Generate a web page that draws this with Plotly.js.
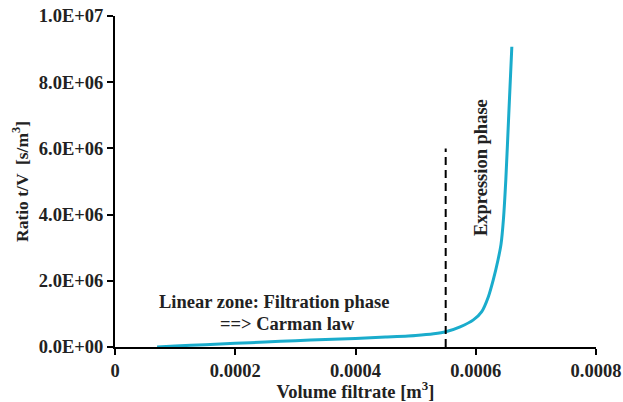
<!DOCTYPE html>
<html>
<head>
<meta charset="utf-8">
<script src="https://cdn.plot.ly/plotly-3.0.1.min.js"></script>
<style>html,body{margin:0;padding:0;background:#fff;}#chart{width:623px;height:402px;}</style>
</head>
<body>
<div id="chart"></div>
<script>
// Data
const volume = [0.00007, 0.0001, 0.00015, 0.0002, 0.00025, 0.0003, 0.00035, 0.0004, 0.00045, 0.0005, 0.00053, 0.00055, 0.000574, 0.000596, 0.00061, 0.000621, 0.000629, 0.000637, 0.000642, 0.000646, 0.00065, 0.000655, 0.00066];
const ratio  = [0, 30000, 70000, 110000, 150000, 190000, 225000, 260000, 300000, 350000, 400000, 460000, 610000, 820000, 1070000, 1520000, 2020000, 2630000, 3100000, 3850000, 5050000, 7060000, 9070000];
const dividerX = [0.00055, 0.00055];
const dividerY = [0, 6000000];
const yTickVals = [0, 2000000, 4000000, 6000000, 8000000, 10000000];
const yTickText = ["0.0E+00", "2.0E+06", "4.0E+06", "6.0E+06", "8.0E+06", "1.0E+07"];
const xTickVals = [0, 0.0002, 0.0004, 0.0006, 0.0008];
const xTickText = ["0", "0.0002", "0.0004", "0.0006", "0.0008"];

const font = "'Liberation Serif', 'Times New Roman', serif";
const txt = {family: font, size: 18.5, color: '#222', weight: 'bold'};
const yTitleTxt = {family: font, size: 17.5, color: '#222', weight: 'bold'};
const xTitleTxt = {family: font, size: 18.5, color: '#222', weight: 'bold'};

const traces = [
  {x: volume, y: ratio, type: 'scatter', mode: 'lines',
   line: {color: '#1aaccc', width: 3, shape: 'spline', smoothing: 0.8}, hoverinfo: 'skip'},
  {x: dividerX, y: dividerY, type: 'scatter', mode: 'lines',
   line: {color: '#000', width: 2, dash: '8px,5px'}, hoverinfo: 'skip'}
];

const layout = {
  width: 623, height: 402,
  margin: {l: 115, r: 27, t: 16, b: 55},
  paper_bgcolor: '#fff', plot_bgcolor: '#fff',
  showlegend: false,
  font: txt,
  xaxis: {
    range: [0, 0.0008], tickvals: xTickVals, ticktext: xTickText,
    showgrid: false, zeroline: false, showline: true, linecolor: '#000', linewidth: 2,
    ticks: 'outside', ticklen: 6, tickwidth: 2, tickcolor: '#000',
    tickfont: txt,
    title: {text: 'Volume filtrate [m<sup>3</sup>]', font: xTitleTxt, standoff: 5}
  },
  yaxis: {
    range: [0, 10000000], tickvals: yTickVals, ticktext: yTickText,
    showgrid: false, zeroline: false, showline: true, linecolor: '#000', linewidth: 2,
    ticks: 'outside', ticklen: 6, tickwidth: 2, tickcolor: '#000',
    tickfont: txt,
    title: {text: 'Ratio t/V  [s/m<sup>3</sup>]', font: yTitleTxt, standoff: 6}
  },
  annotations: [
    {x: 0.000265, y: 1360000, xref: 'x', yref: 'y', text: 'Linear zone: Filtration phase', showarrow: false, font: txt},
    {x: 0.000287, y: 690000, xref: 'x', yref: 'y', text: '==> Carman law', showarrow: false, font: txt},
    {x: 0.000609, y: 5410000, xref: 'x', yref: 'y', text: 'Expression phase', showarrow: false, textangle: -90, font: txt}
  ]
};

Plotly.newPlot('chart', traces, layout, {displayModeBar: false, staticPlot: true});
</script>
</body>
</html>
